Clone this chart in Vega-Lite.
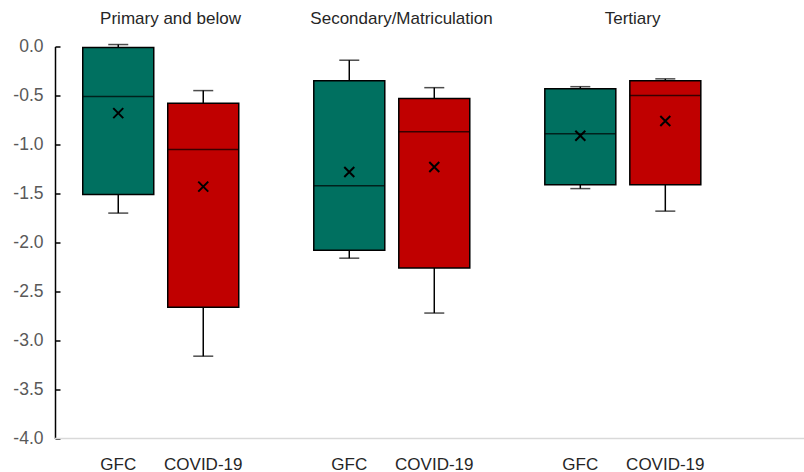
{
  "$schema": "https://vega.github.io/schema/vega-lite/v6.json",
  "width": 749,
  "height": 392,
  "autosize": "none",
  "padding": {"left": 55, "top": 46.5, "right": 0, "bottom": 33.5},
  "config": {
    "view": {"stroke": null},
    "font": "Liberation Sans",
    "locale": {"number": {"decimal": ".", "thousands": ",", "grouping": [3], "currency": ["$", ""], "minus": "-"}}
  },
  "data": {
    "values": [
      {"group": "Primary and below", "period": "GFC", "min": -1.70, "q1": -1.51, "median": -0.51, "q3": -0.01, "max": 0.02, "mean": -0.68},
      {"group": "Primary and below", "period": "COVID-19", "min": -3.16, "q1": -2.66, "median": -1.05, "q3": -0.58, "max": -0.45, "mean": -1.43},
      {"group": "Secondary/Matriculation", "period": "GFC", "min": -2.16, "q1": -2.08, "median": -1.42, "q3": -0.35, "max": -0.14, "mean": -1.28},
      {"group": "Secondary/Matriculation", "period": "COVID-19", "min": -2.72, "q1": -2.26, "median": -0.87, "q3": -0.53, "max": -0.42, "mean": -1.23},
      {"group": "Tertiary", "period": "GFC", "min": -1.45, "q1": -1.41, "median": -0.89, "q3": -0.43, "max": -0.41, "mean": -0.91},
      {"group": "Tertiary", "period": "COVID-19", "min": -1.68, "q1": -1.41, "median": -0.50, "q3": -0.35, "max": -0.33, "mean": -0.76}
    ]
  },
  "layer": [
    {
      "data": {"values": [{}]},
      "mark": {"type": "rule", "color": "#d9d9d9", "strokeWidth": 1.5},
      "encoding": {"y": {"datum": -4, "type": "quantitative"}}
    },
    {
      "mark": {"type": "rule", "color": "black", "strokeWidth": 1.5},
      "encoding": {
        "x": {"field": "group", "type": "nominal", "sort": null, "title": null,
              "scale": {"paddingInner": 0, "paddingOuter": 0.121, "align": 0},
              "axis": {"orient": "top", "domain": false, "ticks": false, "labelAngle": 0, "labelFontSize": 17, "labelColor": "#262626", "labelPadding": 19, "labelLimit": 0}},
        "xOffset": {"field": "period", "type": "nominal", "sort": ["GFC", "COVID-19"],
              "scale": {"paddingInner": 0, "paddingOuter": 0.359, "align": 0.34}},
        "y": {"field": "min", "type": "quantitative", "title": null,
              "scale": {"domain": [-4, 0], "nice": false, "zero": false},
              "axis": {"values": [-4, -3.5, -3, -2.5, -2, -1.5, -1, -0.5, 0], "format": ".1f", "grid": false,
                       "domainColor": "black", "domainWidth": 1.5, "tickColor": "black", "tickWidth": 1.5, "tickSize": -5,
                       "labelPadding": 17, "labelFontSize": 17.5, "labelColor": "#595959"}},
        "y2": {"field": "max"}
      }
    },
    {
      "mark": {"type": "tick", "color": "black", "size": 20, "thickness": 1.5},
      "encoding": {
        "x": {"field": "group", "type": "nominal", "sort": null},
        "xOffset": {"field": "period", "type": "nominal", "sort": ["GFC", "COVID-19"]},
        "y": {"field": "min", "type": "quantitative", "title": null}
      }
    },
    {
      "mark": {"type": "tick", "color": "black", "size": 20, "thickness": 1.5},
      "encoding": {
        "x": {"field": "group", "type": "nominal", "sort": null},
        "xOffset": {"field": "period", "type": "nominal", "sort": ["GFC", "COVID-19"]},
        "y": {"field": "max", "type": "quantitative", "title": null}
      }
    },
    {
      "mark": {"type": "bar", "width": 71, "stroke": "black", "strokeWidth": 1.5},
      "encoding": {
        "x": {"field": "group", "type": "nominal", "sort": null},
        "xOffset": {"field": "period", "type": "nominal", "sort": ["GFC", "COVID-19"]},
        "y": {"field": "q1", "type": "quantitative", "title": null},
        "y2": {"field": "q3"},
        "color": {"field": "period", "type": "nominal", "legend": null,
                  "scale": {"domain": ["GFC", "COVID-19"], "range": ["#007060", "#C00000"]}}
      }
    },
    {
      "mark": {"type": "tick", "color": "black", "size": 71, "thickness": 1.5},
      "encoding": {
        "x": {"field": "group", "type": "nominal", "sort": null},
        "xOffset": {"field": "period", "type": "nominal", "sort": ["GFC", "COVID-19"]},
        "y": {"field": "median", "type": "quantitative", "title": null}
      }
    },
    {
      "mark": {"type": "point", "shape": "M-1,-1L1,1M-1,1L1,-1", "size": 100, "filled": false, "stroke": "black", "strokeWidth": 2, "opacity": 1},
      "encoding": {
        "x": {"field": "group", "type": "nominal", "sort": null},
        "xOffset": {"field": "period", "type": "nominal", "sort": ["GFC", "COVID-19"]},
        "y": {"field": "mean", "type": "quantitative", "title": null}
      }
    },
    {
      "mark": {"type": "text", "fontSize": 17, "color": "#262626", "baseline": "middle", "align": "center", "dy": 26},
      "encoding": {
        "x": {"field": "group", "type": "nominal", "sort": null},
        "xOffset": {"field": "period", "type": "nominal", "sort": ["GFC", "COVID-19"]},
        "y": {"datum": -4, "type": "quantitative"},
        "text": {"field": "period"}
      }
    }
  ]
}
